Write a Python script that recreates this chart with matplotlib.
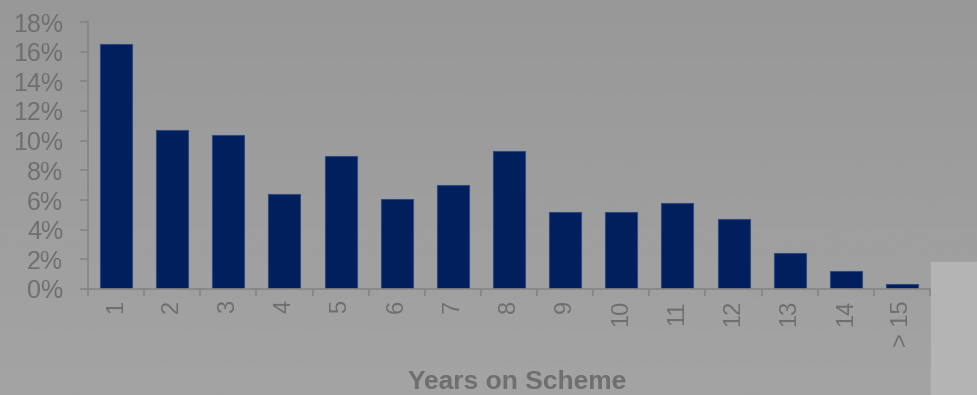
import matplotlib.pyplot as plt
from matplotlib.patches import Rectangle
import numpy as np

plt.rcParams["font.family"] = ["Liberation Sans", "DejaVu Sans"]

years = ["1", "2", "3", "4", "5", "6", "7", "8", "9", "10", "11", "12", "13", "14", "> 15"]
share = [16.5, 10.7, 10.4, 6.4, 9.0, 6.1, 7.0, 9.3, 5.2, 5.2, 5.8, 4.7, 2.4, 1.2, 0.35]
y_ticks = [0, 2, 4, 6, 8, 10, 12, 14, 16, 18]

text_color = "#6f6f6f"
axis_color = "#858585"
bar_color = "#001f5c"
bar_edge = "#2b4a82"

fig = plt.figure(figsize=(9.78, 3.95), dpi=100)

# soft vertical shading behind everything
bg = fig.add_axes([0, 0, 1, 1], zorder=-2)
shade = np.linspace(0.595, 0.64, 256).reshape(-1, 1)
bg.imshow(shade, aspect="auto", cmap="gray", vmin=0, vmax=1, extent=[0, 1, 0, 1])
bg.axis("off")
fig.patches.append(Rectangle((931 / 978, 0), 47 / 978, 133 / 395,
                             transform=fig.transFigure, color="#b4b4b4", zorder=-1))

ax = fig.add_axes([88 / 978, 106 / 395, 842 / 978, 267 / 395])
ax.patch.set_alpha(0)

x = np.arange(len(years))
ax.bar(x, share, width=0.57, color=bar_color, edgecolor=bar_edge, linewidth=0.8)

ax.set_xlim(-0.5, len(years) - 0.5)
ax.set_ylim(0, 18)
ax.set_yticks(y_ticks)
ax.set_yticklabels([f"{v}%" for v in y_ticks])

ax.set_xticks(x)
ax.set_xticklabels(years, rotation=90, va="top", ha="center")
ax.set_xticks(np.arange(-0.5, len(years)), minor=True)

ax.tick_params(axis="y", length=6, width=1.2, color=axis_color, pad=12,
               labelsize=18, labelcolor=text_color)
ax.tick_params(axis="x", which="major", length=0, pad=8,
               labelsize=17, labelcolor=text_color)
ax.tick_params(axis="x", which="minor", length=5, width=1.2, color=axis_color)

for side in ["top", "right"]:
    ax.spines[side].set_visible(False)
for side in ["left", "bottom"]:
    ax.spines[side].set_color(axis_color)
    ax.spines[side].set_linewidth(1.2)

fig.text(517 / 978, 1 / 395, "Years on Scheme", ha="center", va="bottom",
         fontsize=19, fontweight="bold", color=text_color)

fig.savefig("out.png", dpi=100)
